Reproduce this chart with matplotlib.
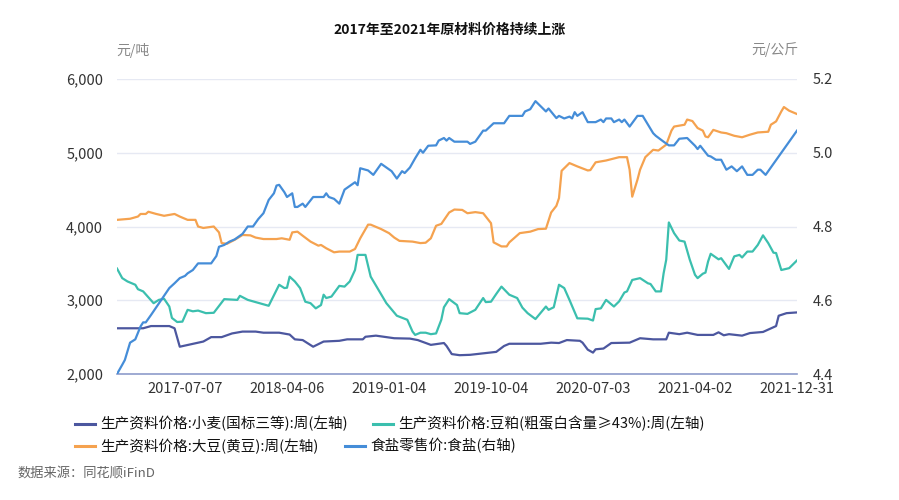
import pandas as pd
import matplotlib
matplotlib.use('Agg')
import matplotlib.pyplot as plt
from matplotlib.lines import Line2D
from matplotlib.ticker import FuncFormatter, MultipleLocator

plt.rcParams['font.family'] = ['Noto Sans CJK SC', 'DejaVu Sans']

# weekly category axis (Fridays), 2017-01-06 .. 2021-12-31
weeks = pd.date_range('2017-01-06', '2021-12-31', freq='W-FRI')
tick_labels = ['2017-07-07', '2018-04-06', '2019-01-04', '2019-10-04',
               '2020-07-03', '2021-04-02', '2021-12-31']

title = '2017年至2021年原材料价格持续上涨'
names = ['生产资料价格:小麦(国标三等):周(左轴)',
         '生产资料价格:豆粕(粗蛋白含量≥43%):周(左轴)',
         '生产资料价格:大豆(黄豆):周(左轴)',
         '食盐零售价:食盐(右轴)']
colors = ['#4c579f', '#3bbfae', '#f5a24f', '#458dd8']

# values, keyed by week number on the category axis
wheat_wk = [0, 10, 13, 20, 22, 24, 33, 36, 40, 44, 48, 53, 56, 62, 66, 68, 71, 75, 79, 85, 88, 94, 95,
            99, 102, 106, 112, 115, 120, 125, 126, 128, 131, 135, 140, 145, 148, 150, 162, 166, 169,
            172, 177, 178, 180, 182, 183, 186, 189, 196, 200, 205, 210, 211, 215, 218, 222, 228, 230,
            232, 234, 239, 242, 247, 252, 253, 256, 260]
wheat_val = [2620, 2620, 2650, 2650, 2620, 2370, 2440, 2500, 2500, 2550, 2575, 2575, 2560, 2560, 2535,
             2470, 2460, 2370, 2440, 2450, 2470, 2470, 2505, 2520, 2505, 2485, 2480, 2460, 2395, 2420,
             2380, 2270, 2255, 2260, 2280, 2300, 2380, 2410, 2410, 2425, 2420, 2460, 2450, 2425, 2330,
             2290, 2335, 2345, 2420, 2425, 2485, 2470, 2470, 2560, 2540, 2560, 2530, 2530, 2565, 2525,
             2540, 2520, 2555, 2570, 2650, 2790, 2825, 2835]

meal_wk = [0, 2, 4, 7, 8, 10, 14, 16, 18, 20, 21, 23, 25, 27, 29, 31, 34, 37, 41, 46, 47, 50, 53, 58,
           62, 64, 65, 66, 68, 70, 72, 74, 76, 78, 79, 80, 82, 85, 87, 89, 91, 92, 95, 97, 100, 103,
           107, 111, 113, 114, 116, 118, 120, 122, 124, 125, 127, 130, 131, 134, 137, 140, 141, 143,
           145, 147, 150, 153, 155, 157, 160, 164, 165, 167, 169, 171, 173, 176, 180, 182, 183, 185,
           187, 190, 192, 194, 195, 197, 200, 203, 204, 206, 208, 209, 210, 211, 213, 215, 217, 219,
           221, 222, 224, 225, 226, 227, 230, 231, 234, 236, 238, 239, 241, 243, 245, 247, 249, 251,
           252, 254, 257, 260]
meal_val = [3430, 3300, 3255, 3210, 3150, 3120, 2960, 3005, 3020, 2915, 2760, 2705, 2710, 2870, 2850,
            2860, 2825, 2830, 3015, 3005, 3060, 3005, 2975, 2925, 3210, 3165, 3170, 3320, 3255, 3165,
            2980, 2960, 2890, 2935, 3075, 3030, 3050, 3195, 3185, 3255, 3410, 3615, 3615, 3320, 3140,
            2960, 2790, 2735, 2575, 2530, 2560, 2560, 2540, 2550, 2735, 2905, 3015, 2935, 2825, 2815,
            2870, 3030, 2975, 2980, 3085, 3185, 3075, 3030, 2900, 2825, 2745, 2915, 2870, 2905, 3210,
            3165, 3005, 2755, 2750, 2725, 2880, 2890, 3005, 2915, 2985, 3105, 3120, 3275, 3300, 3230,
            3220, 3120, 3120, 3365, 3550, 4055, 3910, 3810, 3795, 3550, 3345, 3300, 3360, 3375, 3525,
            3630, 3555, 3570, 3425, 3595, 3615, 3580, 3660, 3660, 3750, 3880, 3775, 3645, 3640, 3410,
            3435, 3540]

soy_wk = [0, 5, 8, 9, 11, 12, 15, 18, 22, 24, 27, 30, 31, 33, 37, 39, 40, 42, 45, 48, 51, 53, 56, 61,
          63, 66, 67, 69, 71, 74, 77, 78, 80, 83, 85, 89, 91, 93, 96, 97, 101, 104, 106, 108, 113, 116,
          118, 120, 122, 124, 127, 129, 132, 134, 137, 140, 143, 144, 147, 149, 150, 154, 158, 161,
          164, 166, 168, 169, 170, 173, 176, 180, 181, 183, 187, 192, 195, 196, 197, 199, 200, 202,
          205, 207, 210, 212, 213, 217, 218, 220, 222, 224, 225, 226, 228, 231, 233, 236, 239, 242,
          245, 249, 250, 252, 254, 255, 257, 260]
soy_val = [4090, 4105, 4135, 4170, 4170, 4200, 4170, 4145, 4170, 4135, 4090, 4090, 4000, 3980, 4000,
           3920, 3775, 3765, 3820, 3885, 3880, 3850, 3830, 3830, 3840, 3820, 3920, 3930, 3875, 3795,
           3740, 3750, 3705, 3650, 3660, 3660, 3695, 3840, 4025, 4025, 3965, 3910, 3850, 3805, 3795,
           3775, 3780, 3840, 4010, 4035, 4190, 4230, 4225, 4180, 4195, 4180, 4045, 3785, 3730, 3730,
           3785, 3910, 3930, 3965, 3970, 4190, 4280, 4385, 4755, 4860, 4815, 4760, 4765, 4870, 4895,
           4940, 4940, 4770, 4405, 4635, 4770, 4940, 5040, 5030, 5110, 5300, 5355, 5380, 5450, 5430,
           5335, 5300, 5220, 5210, 5310, 5275, 5265, 5230, 5210, 5245, 5275, 5285, 5380, 5425, 5560,
           5620, 5570, 5525]

salt_wk = [0, 2, 3, 5, 7, 9, 10, 11, 13, 20, 22, 24, 26, 27, 29, 31, 36, 38, 39, 41, 43, 45, 48, 50,
           52, 54, 56, 58, 60, 61, 62, 64, 65, 67, 68, 69, 71, 72, 75, 79, 80, 81, 83, 85, 87, 89, 91,
           92, 93, 96, 98, 101, 103, 105, 107, 109, 110, 112, 114, 116, 117, 119, 122, 123, 125, 126,
           127, 129, 134, 135, 137, 140, 141, 144, 148, 150, 155, 156, 158, 160, 164, 165, 168, 169,
           171, 173, 174, 175, 176, 178, 180, 183, 185, 186, 187, 189, 190, 192, 193, 194, 196, 199,
           201, 205, 206, 209, 211, 213, 215, 218, 221, 222, 223, 226, 227, 229, 231, 233, 235, 237,
           239, 241, 243, 245, 246, 248, 260]
salt_val = [4.40, 4.425, 4.438, 4.485, 4.494, 4.529, 4.54, 4.54, 4.56, 4.633, 4.646, 4.66, 4.666,
            4.673, 4.682, 4.70, 4.70, 4.72, 4.745, 4.75, 4.759, 4.765, 4.78, 4.80, 4.80, 4.82, 4.836,
            4.872, 4.89, 4.911, 4.913, 4.893, 4.88, 4.89, 4.853, 4.853, 4.862, 4.853, 4.88, 4.88,
            4.89, 4.88, 4.875, 4.862, 4.90, 4.91, 4.92, 4.912, 4.958, 4.952, 4.94, 4.97, 4.96, 4.95,
            4.93, 4.95, 4.945, 4.96, 4.985, 5.008, 5.0, 5.019, 5.02, 5.033, 5.04, 5.033, 5.04, 5.03,
            5.03, 5.024, 5.03, 5.06, 5.06, 5.08, 5.08, 5.10, 5.10, 5.112, 5.118, 5.14, 5.112, 5.12,
            5.094, 5.10, 5.093, 5.098, 5.093, 5.11, 5.10, 5.11, 5.083, 5.083, 5.09, 5.083, 5.093,
            5.093, 5.083, 5.09, 5.083, 5.09, 5.071, 5.10, 5.10, 5.053, 5.046, 5.03, 5.02, 5.02,
            5.038, 5.04, 5.019, 5.01, 5.019, 4.992, 4.99, 4.981, 4.981, 4.954, 4.963, 4.95, 4.963,
            4.94, 4.94, 4.954, 4.954, 4.94, 5.06]

W, H = 899, 500
fig = plt.figure(figsize=(W / 100, H / 100), dpi=100)
ax = fig.add_axes([117 / W, 1 - 374 / H, 680 / W, 295 / H])
ax2 = ax.twinx()

lw = 1.6
ax.plot(wheat_wk, wheat_val, color=colors[0], lw=lw)
ax.plot(meal_wk, meal_val, color=colors[1], lw=lw)
ax.plot(soy_wk, soy_val, color=colors[2], lw=lw)
ax2.plot(salt_wk, salt_val, color=colors[3], lw=lw)

ax.set_xlim(0, len(weeks) - 1)
ax.set_ylim(2000, 6000)
ax2.set_ylim(4.4, 5.2)
ax.yaxis.set_major_locator(MultipleLocator(1000))
ax2.yaxis.set_major_locator(MultipleLocator(0.2))
ax.yaxis.set_major_formatter(FuncFormatter(lambda v, p: f'{v:,.0f}'))
ax2.yaxis.set_major_formatter(FuncFormatter(lambda v, p: f'{v:.1f}'))

ax.set_xticks([weeks.get_loc(pd.Timestamp(t)) for t in tick_labels])
ax.set_xticklabels(tick_labels)

ax.grid(axis='y', color='#e6e9f3', lw=1)
ax.set_axisbelow(True)
for a in (ax, ax2):
    for s in ('top', 'left', 'right', 'bottom'):
        a.spines[s].set_visible(False)
ax.spines['bottom'].set_visible(True)
ax.spines['bottom'].set_color('#8e9ccb')
ax.spines['bottom'].set_linewidth(1.2)

ax.tick_params(axis='y', length=0, pad=10, labelsize=10.5, labelcolor='#333333')
ax.tick_params(axis='x', length=0, pad=5.5, labelsize=10.5, labelcolor='#333333')
ax2.tick_params(axis='y', length=0, pad=11, labelsize=10.5, labelcolor='#333333')

fig.text(0.5, 1 - 30 / H, title, ha='center', va='center', fontsize=10, fontweight='bold', color='#111111')
fig.text(116 / W, 1 - 50 / H, '元/吨', ha='left', va='center', fontsize=10, color='#888888')
fig.text(798 / W, 1 - 50 / H, '元/公斤', ha='right', va='center', fontsize=10, color='#888888')

# legend, laid out in flowing rows like the original
legend_items = [(75, 423.5, 0), (373, 423.5, 1), (75, 446, 2), (345, 446, 3)]
for x0, y0, i in legend_items:
    yy = 1 - y0 / H
    fig.add_artist(Line2D([x0 / W, (x0 + 20) / W], [yy, yy], color=colors[i], lw=2.2,
                          transform=fig.transFigure))
    fig.text((x0 + 25) / W, yy, names[i], ha='left', va='center', fontsize=10.5, color='#111111')

fig.text(17 / W, 1 - 473 / H, '数据来源：同花顺iFinD', ha='left', va='center', fontsize=9.5, color='#666666')

fig.savefig('out.png', dpi=100)
